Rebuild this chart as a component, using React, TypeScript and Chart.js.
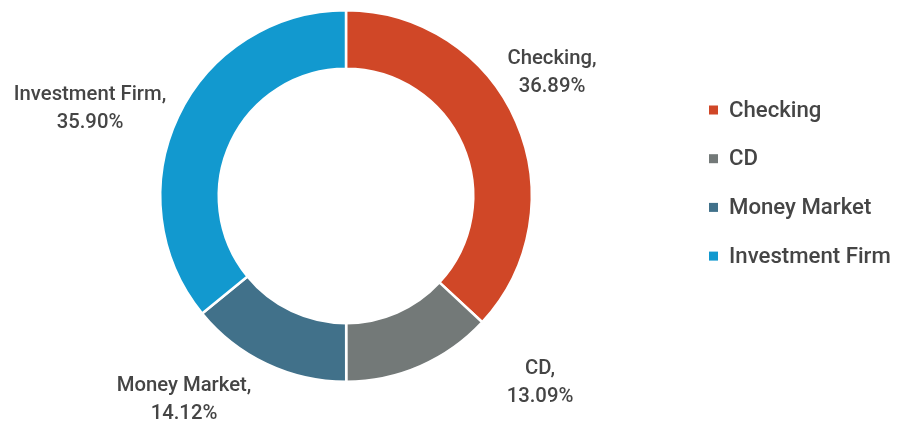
import React, { useEffect, useRef } from "react";
import { Chart, registerables } from "chart.js";

Chart.register(...registerables);

const categories = ["Checking", "CD", "Money Market", "Investment Firm"];
const shares = [36.89, 13.09, 14.12, 35.9];
const shareLabels = ["36.89%", "13.09%", "14.12%", "35.90%"];
const colors = ["#D04727", "#737978", "#41718A", "#1299CF"];

// label anchor points (layout only)
const labelAnchors = [
  [552, 73],
  [540, 383],
  [184, 400],
  [90, 109],
];

const FONT = "Roboto, 'Noto Sans', sans-serif";
const TEXT = "#454545";

const overlay = {
  id: "overlay",
  afterDraw(chart: any) {
    const ctx = chart.ctx;
    const labels = chart.data.labels as string[];
    ctx.save();
    ctx.fillStyle = TEXT;
    ctx.textAlign = "center";
    ctx.textBaseline = "middle";
    ctx.font = `500 20.3px ${FONT}`;
    labels.forEach((l, i) => {
      const [x, y] = labelAnchors[i];
      ctx.fillText(l + ",", x, y - 14);
      ctx.fillText(shareLabels[i], x, y + 14);
    });
    // legend
    ctx.textAlign = "left";
    ctx.font = `500 22.2px ${FONT}`;
    labels.forEach((l, i) => {
      const cy = 110 + i * 48.7;
      ctx.fillStyle = colors[i];
      ctx.fillRect(709, cy - 4.5, 9, 9);
      ctx.fillStyle = TEXT;
      ctx.fillText(l, 729, cy + 1);
    });
    ctx.restore();
  },
};

export default function App() {
  const ref = useRef<HTMLCanvasElement>(null);
  useEffect(() => {
    document.body.style.margin = "0";
    const chart = new Chart(ref.current!, {
      type: "doughnut",
      data: {
        labels: categories,
        datasets: [
          {
            data: shares,
            backgroundColor: colors,
            borderColor: "#ffffff",
            borderWidth: 2.5,
          },
        ],
      },
      options: {
        animation: false,
        responsive: false,
        cutout: "68.5%",
        layout: { padding: { top: 9, bottom: 39, left: 159, right: 364 } },
        plugins: { legend: { display: false }, tooltip: { enabled: false } },
      },
      plugins: [overlay],
    });
    return () => chart.destroy();
  }, []);
  return (
    <div style={{ width: 897, height: 422 }}>
      <canvas ref={ref} width={897} height={422} />
    </div>
  );
}
